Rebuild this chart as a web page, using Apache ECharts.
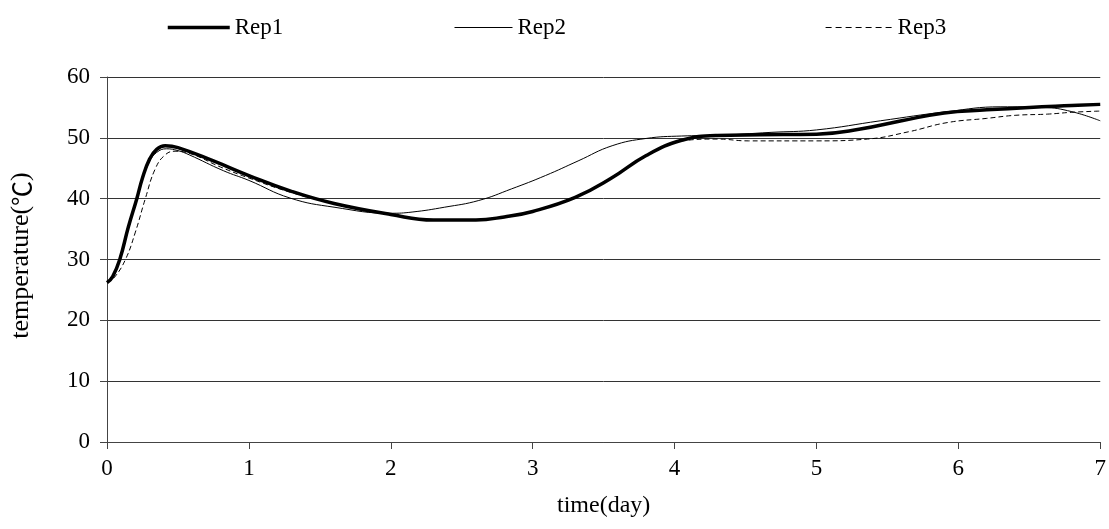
<!DOCTYPE html>
<html><head><meta charset="utf-8">
<script src="https://cdn.jsdelivr.net/npm/echarts@6/dist/echarts.min.js"></script>
<style>html,body{margin:0;padding:0;background:#fff}#c{width:1109px;height:529px}</style>
</head><body><div id="c"></div>
<script>
const xTicks = [0,1,2,3,4,5,6,7];
const yTicks = [0,10,20,30,40,50,60];
const rep1Days = [0,0.04,0.09,0.15,0.21,0.25,0.3,0.35,0.41,0.5,0.75,1.0,1.3,1.6,2.0,2.3,2.6,2.8,3.0,3.3,3.55,3.8,4.05,4.3,4.6,5.0,5.3,5.6,5.9,6.2,6.5,6.8,7.0];
const rep1Temp = [26.2,27.2,30,35.3,40,43.4,46.5,48.1,48.7,48.4,46.2,43.8,41.2,39.2,37.4,36.5,36.5,37,37.9,40.2,43.3,47.1,49.6,50.4,50.5,50.6,51.4,52.8,54.1,54.6,55,55.3,55.5];
const rep2Days = [0,0.04,0.09,0.15,0.21,0.25,0.3,0.35,0.42,0.5,0.58,0.82,1.0,1.29,1.6,2.0,2.15,2.38,2.62,2.85,3.09,3.32,3.56,3.8,4.05,4.3,4.68,5.0,5.45,5.92,6.3,6.6,6.8,7.0];
const rep2Temp = [26.2,27.3,30,35.1,39.8,43.1,46.1,47.6,48.2,47.9,47.2,44.6,43,40.1,38.6,37.6,37.8,38.6,39.7,41.6,43.8,46.2,48.7,49.9,50.3,50.4,50.9,51.3,52.8,54.3,55.1,55,54.3,52.8];
const rep3Days = [0,0.05,0.13,0.2,0.27,0.34,0.41,0.48,0.6,0.8,1.0,1.3,1.6,2.0,2.3,2.6,2.8,3.0,3.3,3.55,3.8,4.05,4.3,4.52,5.0,5.36,5.65,5.92,6.2,6.4,6.63,6.8,7.0];
const rep3Temp = [26.2,27,30,34.5,40,44.9,47.2,47.8,47.3,45.2,43.4,41,39.2,37.4,36.5,36.5,37,37.9,40.2,43.3,47.1,49.5,49.8,49.5,49.5,49.8,51,52.5,53.2,53.7,53.9,54.2,54.4];

function pts(d,t){return d.map((x,i)=>[x,t[i]]);}
const font = "'Liberation Serif','Noto Sans CJK SC',serif";
const cjk = "'Noto Sans CJK SC','Noto Sans CJK JP',sans-serif";
const chart = echarts.init(document.getElementById('c'));
const lineCol = '#000';
const legendBase = {top: 11, itemHeight: 14, itemGap: 4,
  itemStyle:{opacity:0},
  textStyle:{fontFamily:font,fontSize:23,color:'#000'}};
chart.setOption({
  animation:false,
  backgroundColor:'#fff',
  legend:[
    Object.assign({}, legendBase, {left:161, itemWidth:62, data:[{name:'Rep1',lineStyle:{width:3.5}}]}),
    Object.assign({}, legendBase, {left:449, itemWidth:58, data:[{name:'Rep2',lineStyle:{width:1}}]}),
    Object.assign({}, legendBase, {left:820, itemWidth:67, data:[{name:'Rep3',lineStyle:{width:1.2,type:[6,4]}}]})
  ],
  grid:{left:107,right:6,top:77,bottom:87,containLabel:false},
  xAxis:{type:'value',min:0,max:7,interval:1,
    name:'time(day)',nameLocation:'middle',nameGap:52,
    nameTextStyle:{fontFamily:font,fontSize:24,color:'#000'},
    axisLine:{show:true,lineStyle:{color:'#444',width:1}},
    axisTick:{show:true,length:7,lineStyle:{color:'#444'}},
    axisLabel:{fontFamily:font,fontSize:23,color:'#000',margin:15,
      formatter:v=>xTicks.includes(v)?String(v):''},
    splitLine:{show:false}},
  yAxis:{type:'value',min:0,max:60,interval:10,
    name:'temperature({c|℃})',nameLocation:'middle',nameGap:73,nameRotate:90,
    nameTextStyle:{fontFamily:font,fontSize:26,color:'#000',padding:[0,0,0,8],
      rich:{c:{fontFamily:cjk,fontSize:25,color:'#000'}}},
    axisLine:{show:true,lineStyle:{color:'#444',width:1}},
    axisTick:{show:true,length:7,lineStyle:{color:'#444'}},
    axisLabel:{fontFamily:font,fontSize:23,color:'#000',margin:17,
      formatter:v=>yTicks.includes(v)?String(v):''},
    splitLine:{show:true,lineStyle:{color:'#333',width:1}}},
  series:[
    {name:'Rep1',type:'line',smooth:0.45,showSymbol:false,symbol:'none',data:pts(rep1Days,rep1Temp),
      lineStyle:{color:lineCol,width:3.5},itemStyle:{color:lineCol},z:5},
    {name:'Rep2',type:'line',smooth:0.45,showSymbol:false,symbol:'none',data:pts(rep2Days,rep2Temp),
      lineStyle:{color:lineCol,width:1},itemStyle:{color:lineCol},z:6},
    {name:'Rep3',type:'line',smooth:0.45,showSymbol:false,symbol:'none',data:pts(rep3Days,rep3Temp),
      lineStyle:{color:lineCol,width:1,type:[5,3]},itemStyle:{color:lineCol},z:4}
  ]
});
</script></body></html>
